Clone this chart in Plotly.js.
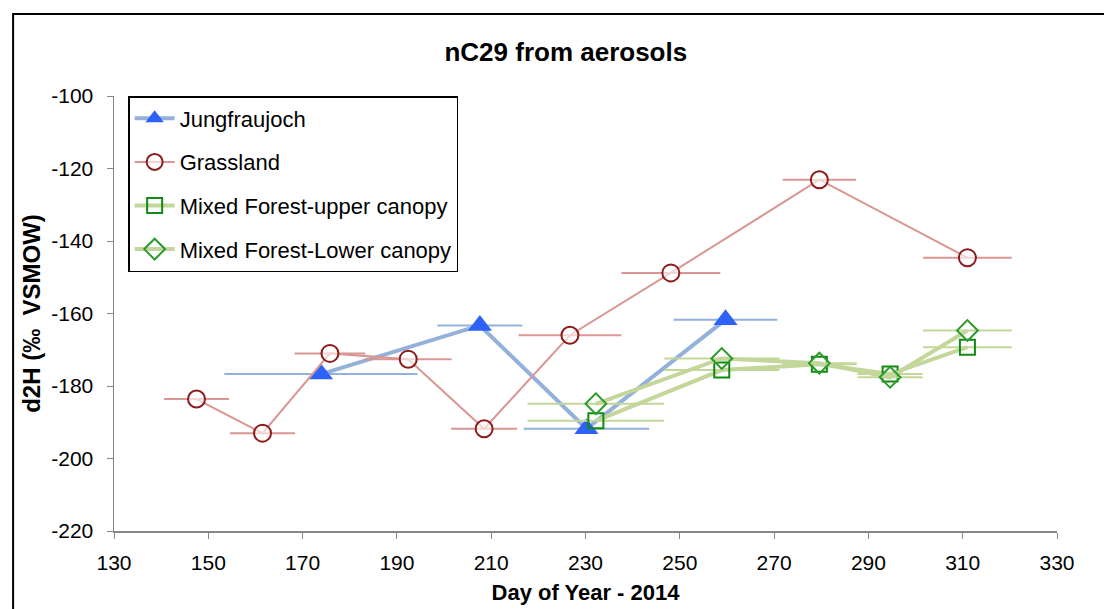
<!DOCTYPE html>
<html>
<head>
<meta charset="utf-8">
<script src="https://cdn.plot.ly/plotly-3.0.1.min.js"></script>
<style>html,body{margin:0;padding:0;background:#fff;} #chart{width:1104px;height:609px;}</style>
</head>
<body>
<div id="chart"></div>
<script>
// Data
const jungX = [173.9, 207.6, 230.2, 259.7];
const jungY = [-176.7, -163.3, -191.8, -161.7];
const jungErr = [20.5, 9.0, 13.3, 11.0];

const grassX = [147.5, 161.5, 175.8, 192.4, 208.5, 226.7, 248.1, 279.6, 311.0];
const grassY = [-183.6, -193.0, -171.0, -172.6, -191.8, -166.0, -148.8, -123.1, -144.6];
const grassErr = [6.9, 6.9, 7.5, 9.2, 7.0, 10.9, 10.5, 7.8, 9.4];

const upperX = [232.2, 258.9, 279.6, 294.6, 311.0];
const upperY = [-189.6, -175.6, -174.0, -176.7, -169.3];
const upperErr = [14.5, 12.2, 7.9, 6.9, 9.4];

const lowerX = [232.2, 258.9, 279.6, 294.6, 311.0];
const lowerY = [-184.9, -172.4, -173.7, -177.6, -164.7];
const lowerErr = [14.5, 12.2, 7.9, 6.9, 9.4];

const xTicks = [130, 150, 170, 190, 210, 230, 250, 270, 290, 310, 330];
const yTicks = [-100, -120, -140, -160, -180, -200, -220];

const FONT = "Arial, 'Liberation Sans', sans-serif";

const traces = [
  {
    name: 'Jungfraujoch', x: jungX, y: jungY, type: 'scatter', mode: 'lines+markers',
    legendgroup: 'a',
    line: {color: '#93B1DA', width: 4},
    marker: {symbol: 'triangle-up', size: 21, color: '#2E62F6', line: {width: 0}},
    error_x: {type: 'data', array: jungErr, color: '#93B1DA', thickness: 2, width: 0}
  },
  {
    name: 'Grassland', x: grassX, y: grassY, type: 'scatter', mode: 'lines+markers',
    legendgroup: 'b',
    line: {color: '#DA9694', width: 2},
    marker: {symbol: 'circle', size: 17, color: 'rgba(255,255,255,0.6)', line: {width: 2, color: '#8E1B1B'}},
    error_x: {type: 'data', array: grassErr, color: '#DA9694', thickness: 2, width: 0}
  },
  {
    name: 'Mixed Forest-upper canopy', x: upperX, y: upperY, type: 'scatter', mode: 'lines+markers',
    legendgroup: 'c',
    line: {color: '#C3D79B', width: 4},
    marker: {symbol: 'square', size: 15, color: 'rgba(255,255,255,0)', line: {width: 2, color: '#138A13'}},
    error_x: {type: 'data', array: upperErr, color: '#C3D79B', thickness: 2, width: 0}
  },
  {
    name: 'Mixed Forest-Lower canopy', x: lowerX, y: lowerY, type: 'scatter', mode: 'lines+markers',
    legendgroup: 'd',
    line: {color: '#C3D79B', width: 4},
    marker: {symbol: 'diamond', size: 16, color: 'rgba(255,255,255,0)', line: {width: 2, color: '#2A9A2A'}},
    error_x: {type: 'data', array: lowerErr, color: '#C3D79B', thickness: 2, width: 0}
  }
];

const layout = {
  width: 1104, height: 609,
  margin: {l: 114, r: 47, t: 96, b: 78},
  paper_bgcolor: '#ffffff', plot_bgcolor: '#ffffff',
  font: {family: FONT, color: '#000000'},
  showlegend: true,
  title: {
    text: '<b>nC29 from aerosols</b>',
    font: {family: FONT, size: 26, color: '#000'},
    x: 0.5125, xanchor: 'center', y: 0.915, yanchor: 'middle', xref: 'container', yref: 'container'
  },
  xaxis: {
    range: [130, 330], tickvals: xTicks, ticktext: xTicks.map(String),
    showgrid: false, zeroline: false, showline: true, linecolor: '#868686', linewidth: 1.5,
    ticks: 'outside', ticklen: 6, tickcolor: '#868686', tickwidth: 1,
    ticklabelstandoff: 6,
    tickfont: {family: FONT, size: 21, color: '#000'},
    title: {text: '<b>Day of Year - 2014</b>', font: {family: FONT, size: 22, color: '#000'}, standoff: 12}
  },
  yaxis: {
    range: [-220, -100], tickvals: yTicks, ticktext: yTicks.map(String),
    showgrid: false, zeroline: false, showline: true, linecolor: '#868686', linewidth: 1.5,
    ticks: 'outside', ticklen: 6, tickcolor: '#868686', tickwidth: 1,
    ticklabelstandoff: 9,
    tickfont: {family: FONT, size: 21, color: '#000'},
    title: {text: '<b>d2H (\u2030\u00A0\u00A0VSMOW)</b>', font: {family: FONT, size: 24, color: '#000'}, standoff: 4}
  },
  legend: {
    x: 0.015, y: 1.0, xanchor: 'left', yanchor: 'top',
    bgcolor: '#ffffff', bordercolor: '#000000', borderwidth: 1.5,
    font: {family: FONT, size: 22, color: '#000'},
    tracegroupgap: 12, itemwidth: 40, traceorder: 'grouped'
  },
  shapes: [
    {type: 'rect', xref: 'paper', yref: 'paper', x0: -0.107, x1: 1.07, y0: -0.25, y1: 1.1885,
     line: {color: '#000000', width: 2}, fillcolor: 'rgba(0,0,0,0)', layer: 'below'}
  ]
};

Plotly.newPlot('chart', traces, layout, {displayModeBar: false, staticPlot: true});
</script>
</body>
</html>
